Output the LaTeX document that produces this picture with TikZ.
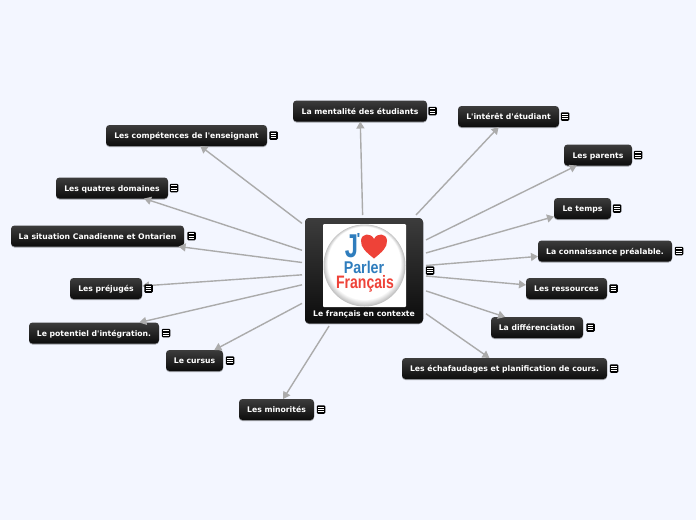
\documentclass[tikz,border=0pt]{standalone}
\usepackage{fontspec}
\newfontfamily\labelfont{DejaVu Sans}
\newfontfamily\badgefont{Liberation Sans}
\usetikzlibrary{arrows.meta,shadows,shapes.geometric}
\definecolor{bgc}{HTML}{F3F6FF}
\definecolor{linec}{HTML}{ABABAB}
\definecolor{boxtop}{HTML}{3C3C3C}
\definecolor{boxbot}{HTML}{0C0C0C}
\definecolor{jblue}{HTML}{2F7DBD}
\definecolor{jred}{HTML}{EE4238}
\tikzset{
  x=1pt,y=-1pt,
  topic/.style={rectangle,rounded corners=3.5pt,top color=boxtop,bottom color=boxbot,text=white,
    font=\labelfont\fontsize{7.7}{10}\selectfont\bfseries,inner sep=0pt,outer sep=0pt,align=center,
    text height=7pt,text depth=1pt,
    drop shadow={shadow xshift=0pt,shadow yshift=-1pt,opacity=.35,fill=black}},
  rootbox/.style={topic,rounded corners=4pt,top color=boxtop,bottom color=boxbot,outer sep=3pt},
  conn/.style={draw=linec,line width=1.4pt,-{Triangle[length=7pt,width=8pt]}},
  noteicon/.style={rectangle,rounded corners=1.2pt,fill=black,minimum width=8.5pt,minimum height=8.5pt,inner sep=0pt,
    path picture={
      \foreach \d in {-2.2,0,2.2}
        \draw[white,line width=1pt] ([xshift=-2.8pt,yshift=\d pt]path picture bounding box.center) -- ([xshift=2.8pt,yshift=\d pt]path picture bounding box.center);
    }},
}
\begin{document}
\begin{tikzpicture}
\useasboundingbox (0,0) rectangle (696,520);
\fill[bgc] (0,0) rectangle (696,520);
\node[rootbox,minimum width=118pt,minimum height=105pt] (root) at (364,270.5) {};
\foreach \nm/\cx/\cy/\w/\ic/\tx in {
  a/360/111/134/432.5/{La mentalité des étudiants},
  b/508.5/116.5/101/565/{L'intérêt d'étudiant},
  c/598/155/68/638/{Les parents},
  d/582.5/208.5/57/617/{Le temps},
  e/605/251/134/679/{La connaissance préalable.},
  f/566.5/288.5/81/613.5/{Les ressources},
  g/537/327.5/92/590.5/{La différenciation},
  h/504.5/368.5/205/614/{Les échafaudages et planification de cours.},
  i/186.5/135.5/161/273.5/{Les compétences de l'enseignant},
  j/112/188/112/174/{Les quatres domaines},
  k/97.5/236/173/191.5/{La situation Canadienne et Ontarien},
  l/106/288.5/72/148.5/{Les préjugés},
  m/94/333/130/166/{Le potentiel d'intégration.},
  n/194.5/360.5/57/230/{Le cursus},
  o/276.5/409.5/75/321/{Les minorités}}{
  \node[topic,minimum width=\w pt,minimum height=21pt,name=\nm] at (\cx,\cy) {\tx};
  \draw[conn] (root) -- (\nm);
  \node[noteicon,name=\nm icon] at (\ic,\cy) {};
}
\node[rootbox,minimum width=118pt,minimum height=105pt] (rootfront) at (364,270.5) {};
\node[fill=white,rounded corners=1pt,minimum width=83pt,minimum height=83pt,inner sep=0pt] (photo) at (364.5,265.5) {};
\foreach \i in {0,...,8}
  \fill[black!\fpeval{24-3*\i}] (364.5,{265.5-0.25*\i}) circle ({41-0.55*\i});
\node[inner sep=0pt,text=jblue,anchor=center] (jay) at (351.5,246.5) {\badgefont\bfseries\fontsize{33}{33}\selectfont\scalebox{.72}[1]{J}};
\node[inner sep=0pt,text=jblue,anchor=center] (apos) at (358.5,238.5) {\badgefont\bfseries\fontsize{16}{16}\selectfont '};
\fill[jred] (374,258.5) .. controls (366,252) and (360.5,247.5) .. (361,240.5) .. controls (361.5,233) and (371,232.5) .. (374,239) .. controls (377,232.5) and (386.5,233) .. (387,240.5) .. controls (387.5,247.5) and (382,252) .. (374,258.5) -- cycle;
\node[inner sep=0pt,text=jblue] (parler) at (364,267) {\badgefont\bfseries\fontsize{17}{17}\selectfont\scalebox{.84}[1]{Parler}};
\node[inner sep=0pt,text=jred] (francais) at (365,283.5) {\badgefont\bfseries\fontsize{18}{18}\selectfont\scalebox{.78}[1]{Français}};
\node[inner sep=0pt,text=white,text height=7pt,text depth=1pt,font=\labelfont\fontsize{7.7}{10}\selectfont\bfseries] (roottext) at (364,313.5) {Le français en contexte};
\node[noteicon] (rooticon) at (430,270.5) {};
\end{tikzpicture}
\end{document}
